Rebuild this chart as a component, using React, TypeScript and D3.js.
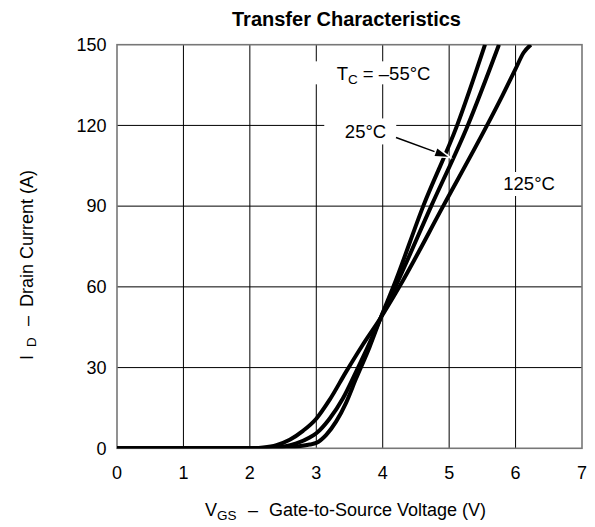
import React from 'react';
import * as d3 from 'd3';

const xTicks = [0, 1, 2, 3, 4, 5, 6, 7];
const yTicks = [0, 30, 60, 90, 120, 150];

const vgsM55 = [0, 2.0, 2.5, 2.7, 2.9, 3.0, 3.15, 3.3, 3.45, 3.6, 3.8, 3.97, 4.16, 4.61, 5.12, 5.54];
const idM55 = [0, 0, 0.1, 0.6, 1.4, 2, 5, 10, 17, 26, 37.5, 48.5, 60, 90, 120, 150];

const vgs25 = [0, 2.0, 2.3, 2.5, 2.7, 2.9, 3.0, 3.2, 3.4, 3.6, 3.8, 3.97, 4.19, 4.73, 5.28, 5.75];
const id25 = [0, 0, 0.1, 0.6, 1.8, 4, 5.6, 11, 18.5, 28.5, 39, 48.5, 60, 90, 120, 150];

const vgs125 = [0, 2.0, 2.2, 2.4, 2.6, 2.8, 3.0, 3.2, 3.45, 3.7, 3.97, 4.25, 4.91, 5.57, 5.8, 6.0, 6.12, 6.23];
const id125 = [0, 0, 0.3, 1.2, 3.2, 6.5, 11, 18, 28.5, 38.5, 48.5, 60, 90, 120, 131, 141, 147, 150];

const W = 595;
const H = 527;
const FONT = 'Liberation Sans, Arial, sans-serif';

export default function App() {
  const x = d3.scaleLinear().domain([0, 7]).range([117, 582]);
  const y = d3.scaleLinear().domain([0, 150]).range([448.3, 44.7]);

  const line = d3
    .line<[number, number]>()
    .x((d) => x(d[0]))
    .y((d) => y(d[1]))
    .curve(d3.curveMonotoneX);

  const series = [
    vgsM55.map((v, i) => [v, idM55[i]] as [number, number]),
    vgs25.map((v, i) => [v, id25[i]] as [number, number]),
    vgs125.map((v, i) => [v, id125[i]] as [number, number]),
  ];

  // arrow (data units)
  const a0 = [x(4.2), y(115.5)];
  const a1 = [x(4.985), y(108.4)];
  const ang = Math.atan2(a1[1] - a0[1], a1[0] - a0[0]);
  const hl = 13;
  const hw = 4;
  const bx = a1[0] - hl * Math.cos(ang);
  const by = a1[1] - hl * Math.sin(ang);
  const p1 = [bx + hw * Math.sin(ang), by - hw * Math.cos(ang)];
  const p2 = [bx - hw * Math.sin(ang), by + hw * Math.cos(ang)];

  return (
    <svg
      width={W}
      height={H}
      style={{ position: 'absolute', left: 0, top: 0, background: '#fff' }}
      fontFamily={FONT}
    >
      <defs>
        <clipPath id="plot">
          <rect x={x(0)} y={y(150)} width={x(7) - x(0)} height={y(0) - y(150)} />
        </clipPath>
      </defs>
      <rect width={W} height={H} fill="#fff" />

      {/* grid */}
      {xTicks.slice(1, -1).map((t) => (
        <line key={'gx' + t} x1={x(t)} x2={x(t)} y1={y(0)} y2={y(150)} stroke="#000" strokeWidth={1} />
      ))}
      {yTicks.slice(1, -1).map((t) => (
        <line key={'gy' + t} x1={x(0)} x2={x(7)} y1={y(t)} y2={y(t)} stroke="#000" strokeWidth={1} />
      ))}

      {/* label backgrounds */}
      <rect x={x(2.9)} y={y(137.5) - 17} width={130} height={23} fill="#fff" />
      <rect x={x(3.12)} y={y(120) - 7} width={72} height={26} fill="#fff" />
      <rect x={x(5.8) - 6} y={y(96) - 18} width={64} height={24} fill="#fff" />

      {/* frame */}
      <rect
        x={x(0)}
        y={y(150)}
        width={x(7) - x(0)}
        height={y(0) - y(150)}
        fill="none"
        stroke="#777"
        strokeWidth={1.6}
      />

      {/* curves */}
      <g clipPath="url(#plot)">
        {series.map((s, i) => (
          <path key={i} d={line(s) || ''} fill="none" stroke="#000" strokeWidth={4} strokeLinejoin="round" />
        ))}
      </g>

      {/* arrow */}
      <line x1={a0[0]} y1={a0[1]} x2={bx} y2={by} stroke="#000" strokeWidth={1.5} />
      <polygon
        points={`${a1[0]},${a1[1]} ${p1[0]},${p1[1]} ${p2[0]},${p2[1]}`}
        fill="#000"
        stroke="#fff"
        strokeWidth={3}
        style={{ paintOrder: 'stroke' }}
      />

      {/* annotations */}
      <text x={x(3.307)} y={y(136.9)} fontSize={18.5} fill="#000">
        T<tspan fontSize={13.5} dy={4}>C</tspan>
        <tspan dy={-4}>{'\u00A0=\u00A0–55°C'}</tspan>
      </text>
      <text x={x(3.43)} y={y(115.2)} fontSize={18.5} fill="#000">
        25°C
      </text>
      <text x={x(5.815)} y={y(96)} fontSize={18.5} fill="#000">
        125°C
      </text>

      {/* tick labels */}
      {xTicks.map((t) => (
        <text key={'tx' + t} x={x(t)} y={479} fontSize={18} textAnchor="middle" fill="#000">
          {t}
        </text>
      ))}
      {yTicks.map((t) => (
        <text key={'ty' + t} x={106.5} y={y(t)} dy="0.35em" fontSize={18} textAnchor="end" fill="#000">
          {t}
        </text>
      ))}

      {/* title */}
      <text x={346.5} y={26} fontSize={20} fontWeight="bold" textAnchor="middle" fill="#000">
        Transfer Characteristics
      </text>

      {/* axis titles */}
      <text x={205} y={516} fontSize={18} fill="#000">
        V<tspan fontSize={13.5} dy={4}>GS</tspan>
        <tspan x={248} dy={-4}>–</tspan>
        <tspan x={269}>Gate-to-Source Voltage (V)</tspan>
      </text>
      <text transform="translate(33,0) rotate(-90)" fontSize={18} fill="#000">
        <tspan x={-360}>I</tspan>
        <tspan x={-347} fontSize={13.5} dy={3}>D</tspan>
        <tspan x={-326} dy={-3}>–</tspan>
        <tspan x={-307}>Drain Current (A)</tspan>
      </text>
    </svg>
  );
}
